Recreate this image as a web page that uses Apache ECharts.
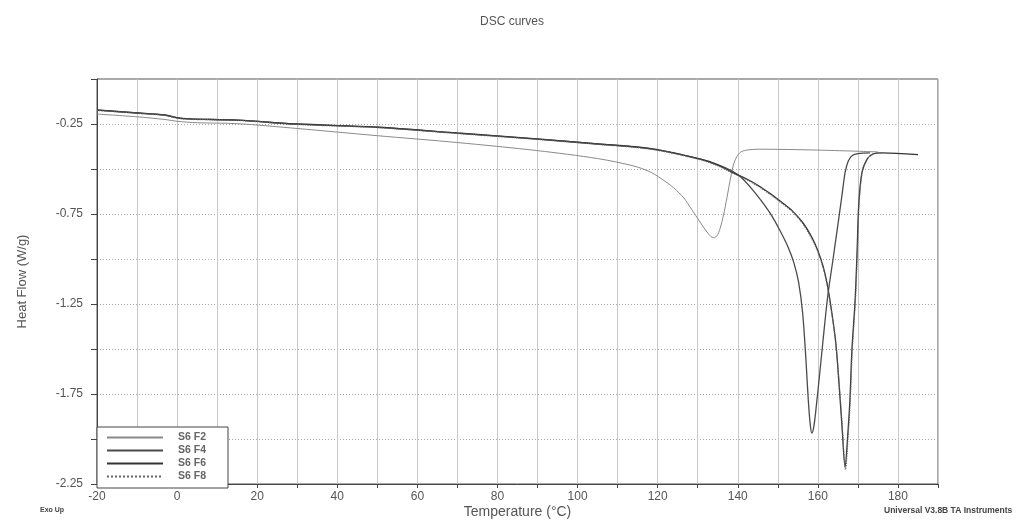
<!DOCTYPE html>
<html>
<head>
<meta charset="utf-8">
<script src="https://cdn.jsdelivr.net/npm/echarts@6/dist/echarts.min.js"></script>
<style>
  html, body { margin: 0; padding: 0; background: #fff; }
  #chart { width: 1024px; height: 520px; }
</style>
</head>
<body>
<div id="chart"></div>
<script>
// DSC 曲线数据（温度 °C, 热流 W/g），从原图读取的估计值
const seriesNames = ['S6 F2', 'S6 F4', 'S6 F6', 'S6 F8'];

const f2Points = [
  [-20, -0.195], [-10, -0.21], [-3, -0.225], [0, -0.235], [5, -0.243], [15, -0.248],
  [30, -0.275], [50, -0.315], [70, -0.353], [90, -0.398], [105, -0.442], [114, -0.483],
  [118, -0.515], [121, -0.555], [124, -0.605], [126.5, -0.66], [128.5, -0.725],
  [130.6, -0.795], [132.3, -0.85], [133.3, -0.875], [134, -0.882], [134.8, -0.872],
  [135.6, -0.83], [136.5, -0.75], [137.3, -0.66], [138.2, -0.55], [139, -0.47],
  [139.8, -0.43], [140.8, -0.405], [142.5, -0.394], [145.5, -0.39], [160, -0.395], [175, -0.405]
];

const f4Points = [
  [-20, -0.172], [-10, -0.188], [-3, -0.2], [0, -0.215], [3, -0.222], [15, -0.228],
  [30, -0.25], [50, -0.267], [70, -0.3], [90, -0.333], [105, -0.36], [118.8, -0.388],
  [130.6, -0.444], [135, -0.475], [138.5, -0.51], [141, -0.55], [143.5, -0.61],
  [146, -0.68], [148.5, -0.76], [150.5, -0.84], [152.5, -0.93], [154, -1.02],
  [155.2, -1.13], [156.2, -1.3], [157, -1.55], [157.6, -1.78], [158.1, -1.92],
  [158.5, -1.967], [159, -1.93], [159.6, -1.82], [160.4, -1.65], [161.3, -1.45],
  [162.5, -1.2], [163.8, -1.0], [165, -0.81], [166, -0.65], [166.8, -0.52],
  [167.6, -0.455], [168.6, -0.425], [170, -0.414], [173, -0.41]
];

const f6Points = [
  [-20, -0.173], [-10, -0.189], [-3, -0.201], [0, -0.216], [3, -0.222], [15, -0.229],
  [30, -0.251], [50, -0.268], [70, -0.301], [90, -0.334], [105, -0.361], [118.8, -0.389],
  [130.6, -0.445], [135, -0.478], [138.8, -0.52], [142, -0.553], [145, -0.59],
  [148, -0.635], [150.5, -0.677], [153.5, -0.73], [156.3, -0.8], [158.5, -0.88],
  [160, -0.954], [161.3, -1.04], [162.3, -1.136], [163.5, -1.3], [164.5, -1.47],
  [165.3, -1.7], [166, -1.92], [166.8, -2.156], [167.5, -1.967], [168, -1.785],
  [168.5, -1.508], [169.3, -1.23], [169.8, -0.954], [170.2, -0.7], [171, -0.52],
  [172.3, -0.445], [173.8, -0.416], [176, -0.41], [185, -0.42]
];

const f8Points = [
  [-20, -0.175], [-10, -0.19], [-3, -0.203], [0, -0.218], [3, -0.224], [15, -0.23],
  [30, -0.253], [50, -0.27], [70, -0.303], [90, -0.336], [105, -0.363], [118.8, -0.392],
  [130.6, -0.448], [135, -0.482], [138.8, -0.524], [142, -0.557], [145, -0.595],
  [148, -0.64], [150.5, -0.682], [153.5, -0.735], [156.3, -0.806], [158.5, -0.888],
  [160, -0.96], [161.3, -1.047], [162.3, -1.142], [163.5, -1.306], [164.5, -1.476],
  [165.4, -1.71], [166.1, -1.93], [166.9, -2.17], [167.6, -1.97], [168.1, -1.785],
  [168.6, -1.505], [169.4, -1.225], [169.9, -0.95], [170.3, -0.695], [171.1, -0.515],
  [172.4, -0.442], [174, -0.415], [176, -0.41]
];

// 坐标轴刻度标签
const xLabelValues = [-20, 0, 20, 40, 60, 80, 100, 120, 140, 160, 180];
const yLabelValues = [-0.25, -0.75, -1.25, -1.75, -2.25];

const chart = echarts.init(document.getElementById('chart'));
const font = '"Liberation Sans", Arial, sans-serif';

const lineStyles = [
  { color: '#8a8a8a', width: 1, type: 'solid' },
  { color: '#4a4a4a', width: 1.3, type: 'solid' },
  { color: '#333333', width: 1.3, type: 'solid' },
  { color: '#666666', width: 1.2, type: 'dotted' }
];
const allPoints = [f2Points, f4Points, f6Points, f8Points];

const option = {
  animation: false,
  backgroundColor: '#fff',
  title: {
    text: 'DSC curves',
    left: 'center',
    top: 11,
    textStyle: { fontFamily: font, fontSize: 12, fontWeight: 'normal', color: '#555' }
  },
  grid: {
    left: 97, top: 79, right: 86, bottom: 36,
    outerBoundsMode: 'none',
    containLabel: false,
    show: true, borderColor: '#555', borderWidth: 1
  },
  legend: {
    data: seriesNames,
    orient: 'vertical',
    left: 97,
    top: 427,
    itemWidth: 56,
    itemHeight: 10,
    itemGap: 2,
    padding: [5, 22, 6, 9],
    backgroundColor: '#fff',
    borderColor: '#444',
    borderWidth: 1,
    borderRadius: 0,
    itemStyle: { opacity: 0 },
    textStyle: { fontFamily: font, fontSize: 10.5, color: '#666', padding: [0, 0, 0, 10], fontWeight: 'bold' }
  },
  xAxis: {
    type: 'value',
    min: -20,
    max: 190,
    interval: 10,
    name: 'Temperature (°C)',
    nameLocation: 'middle',
    nameGap: 21,
    nameMoveOverlap: false,
    nameTextStyle: { fontFamily: font, fontSize: 14, color: '#555' },
    axisLine: { onZero: false, lineStyle: { color: '#444' } },
    axisTick: { length: 4, lineStyle: { color: '#444' } },
    axisLabel: {
      fontFamily: font, fontSize: 12, color: '#555', margin: 7,
      formatter: v => (xLabelValues.indexOf(v) >= 0 ? String(v) : '')
    },
    splitLine: { show: true, lineStyle: { color: '#c8c8c8', width: 1, type: 'solid' } }
  },
  yAxis: {
    type: 'value',
    min: -2.25,
    max: 0,
    interval: 0.25,
    name: 'Heat Flow (W/g)',
    nameLocation: 'middle',
    nameGap: 68,
    nameTextStyle: { fontFamily: font, fontSize: 13, color: '#555' },
    axisLine: { show: true, onZero: false, lineStyle: { color: '#444' } },
    axisTick: { length: 6, lineStyle: { color: '#444' } },
    axisLabel: {
      fontFamily: font, fontSize: 12, color: '#555', margin: 14,
      formatter: v => {
        const r = Math.round(v * 100) / 100;
        return yLabelValues.indexOf(r) >= 0 ? r.toFixed(2) : '';
      }
    },
    splitLine: { show: true, lineStyle: { color: '#a8a8a8', width: 1, type: [1, 2] } }
  },
  graphic: [
    {
      type: 'text', left: 40, top: 507,
      style: { text: 'Exo Up', fontFamily: font, fontSize: 7, fontWeight: 'bold', fill: '#444' }
    },
    {
      type: 'text', left: 884, top: 506,
      style: { text: 'Universal V3.8B TA Instruments', fontFamily: font, fontSize: 8.5, fontWeight: 'bold', fill: '#444' }
    }
  ],
  series: seriesNames.map((name, i) => ({
    name,
    type: 'line',
    data: allPoints[i],
    symbol: 'none',
    smooth: 0.3,
    lineStyle: lineStyles[i],
    itemStyle: { color: lineStyles[i].color },
    z: 3 + i
  }))
};

chart.setOption(option);
</script>
</body>
</html>
